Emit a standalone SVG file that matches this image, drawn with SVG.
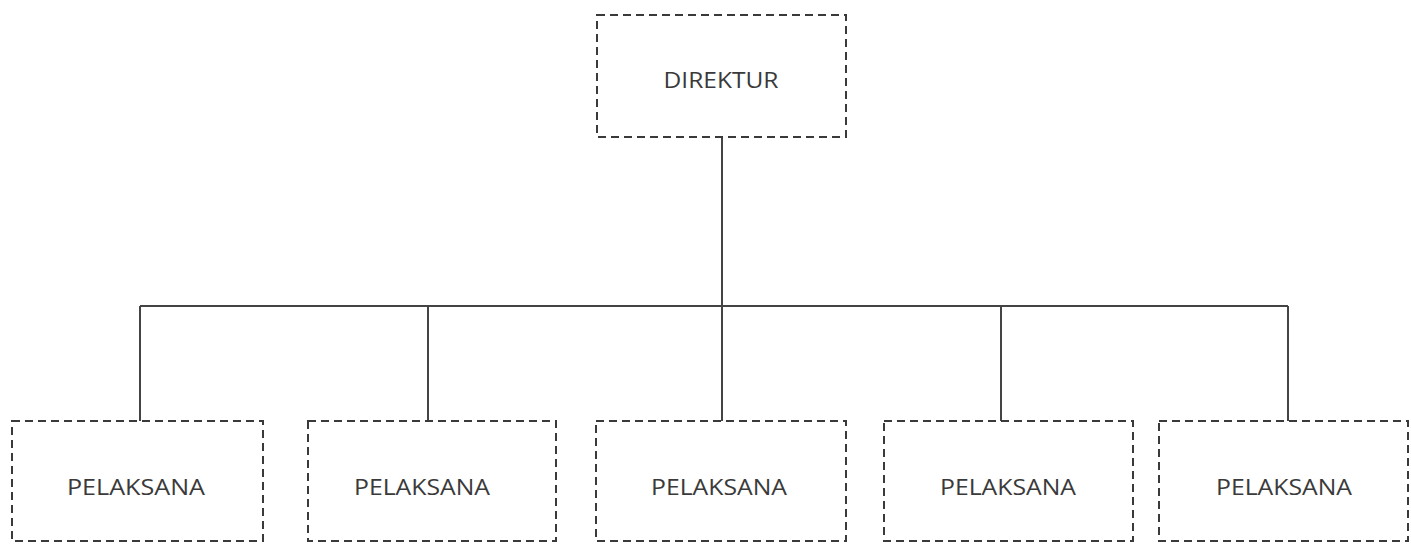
<svg xmlns="http://www.w3.org/2000/svg" width="1411" height="544" viewBox="0 0 1411 544">
<style>
.box{fill:none;stroke:#3a3a3a;stroke-width:2;stroke-dasharray:8 5}
.ln{fill:none;stroke:#444;stroke-width:2}
.t{font-family:"Open Sans","Liberation Sans",sans-serif;font-size:21px;fill:#3a3a3a;text-anchor:middle}
</style>
<rect width="1411" height="544" fill="#fff"/>
<g id="connectors">
<path class="ln" d="M722 137V306M140 306H1288M140 306V421M428 306V421M722 306V421M1001 306V421M1288 306V421"/>
</g>
<g id="direktur"><rect class="box" x="597" y="15" width="249" height="122"/><text class="t" x="721" y="88" textLength="115" lengthAdjust="spacingAndGlyphs">DIREKTUR</text></g>
<g id="pelaksana1"><rect class="box" x="12" y="421" width="251" height="120"/><text class="t" x="136" y="495" textLength="138" lengthAdjust="spacingAndGlyphs">PELAKSANA</text></g>
<g id="pelaksana2"><rect class="box" x="308" y="421" width="248" height="120"/><text class="t" x="422" y="495" textLength="136" lengthAdjust="spacingAndGlyphs">PELAKSANA</text></g>
<g id="pelaksana3"><rect class="box" x="596" y="421" width="250" height="120"/><text class="t" x="719" y="495" textLength="136" lengthAdjust="spacingAndGlyphs">PELAKSANA</text></g>
<g id="pelaksana4"><rect class="box" x="884" y="421" width="249" height="120"/><text class="t" x="1008" y="495" textLength="136" lengthAdjust="spacingAndGlyphs">PELAKSANA</text></g>
<g id="pelaksana5"><rect class="box" x="1159" y="421" width="249" height="120"/><text class="t" x="1284" y="495" textLength="136" lengthAdjust="spacingAndGlyphs">PELAKSANA</text></g>
</svg>
